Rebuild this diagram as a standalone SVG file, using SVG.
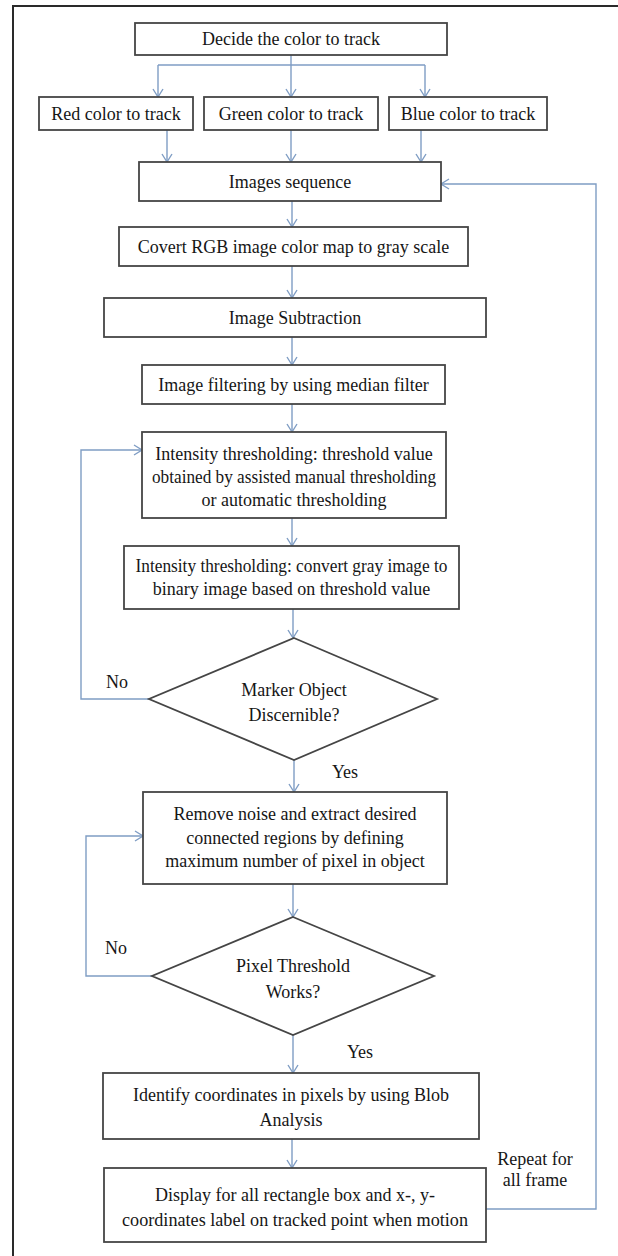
<svg xmlns="http://www.w3.org/2000/svg" width="618" height="1256" viewBox="0 0 618 1256">
<style>
.box{fill:#fff;stroke:#454545;stroke-width:1.8}
.t{font-family:"Liberation Serif","Times New Roman",serif;font-size:18px;fill:#161616;text-anchor:middle;dominant-baseline:central}
.c{fill:none;stroke:#7f9dc4;stroke-width:1.4}
</style>
<defs>
<marker id="ah" markerWidth="12" markerHeight="12" refX="9" refY="6" orient="auto" markerUnits="userSpaceOnUse">
<path d="M1,1 L9,6 L1,11" fill="none" stroke="#7f9dc4" stroke-width="1.4"/>
</marker>
</defs>
<rect width="618" height="1256" fill="#fff"/>
<path d="M13,1256 V6 H618" fill="none" stroke="#2a2a2a" stroke-width="2"/>

<g id="connectors">
<path class="c" d="M291,55 V97" marker-end="url(#ah)"/>
<path class="c" d="M158,65 H425"/>
<path class="c" d="M158,65 V97" marker-end="url(#ah)"/>
<path class="c" d="M425,65 V97" marker-end="url(#ah)"/>
<path class="c" d="M167,130 V162" marker-end="url(#ah)"/>
<path class="c" d="M291,130 V162" marker-end="url(#ah)"/>
<path class="c" d="M421,130 V162" marker-end="url(#ah)"/>
<path class="c" d="M292,201 V227" marker-end="url(#ah)"/>
<path class="c" d="M292,266 V298" marker-end="url(#ah)"/>
<path class="c" d="M292,337 V365" marker-end="url(#ah)"/>
<path class="c" d="M292,404 V432" marker-end="url(#ah)"/>
<path class="c" d="M292,518 V546" marker-end="url(#ah)"/>
<path class="c" d="M293,609 V638" marker-end="url(#ah)"/>
<path class="c" d="M149,699 H81 V450 H142" marker-end="url(#ah)"/>
<path class="c" d="M294,760 V792" marker-end="url(#ah)"/>
<path class="c" d="M293,884 V917" marker-end="url(#ah)"/>
<path class="c" d="M152,976 H86 V836 H143" marker-end="url(#ah)"/>
<path class="c" d="M293,1035 V1073" marker-end="url(#ah)"/>
<path class="c" d="M292,1139 V1168" marker-end="url(#ah)"/>
<path class="c" d="M486,1209 H596 V184 H441" marker-end="url(#ah)"/>
</g>

<g id="decide"><rect class="box" x="135" y="23" width="312" height="32"/><text class="t" x="291" y="39">Decide the color to track</text></g>
<g id="red"><rect class="box" x="39" y="97" width="154" height="33"/><text class="t" x="116" y="113.5">Red color to track</text></g>
<g id="green"><rect class="box" x="204" y="97" width="174" height="33"/><text class="t" x="291" y="113.5">Green color to track</text></g>
<g id="blue"><rect class="box" x="389" y="97" width="158" height="33"/><text class="t" x="468" y="113.5">Blue color to track</text></g>
<g id="images"><rect class="box" x="139" y="162" width="302" height="39"/><text class="t" x="290" y="181.5">Images sequence</text></g>
<g id="covert"><rect class="box" x="119" y="227" width="349" height="39"/><text class="t" x="293.5" y="246.5">Covert RGB image color map to gray scale</text></g>
<g id="subtraction"><rect class="box" x="104" y="298" width="382" height="39"/><text class="t" x="295" y="317.5">Image Subtraction</text></g>
<g id="filter"><rect class="box" x="142" y="365" width="303" height="39"/><text class="t" x="293.5" y="384.5">Image filtering by using median filter</text></g>
<g id="thresh1"><rect class="box" x="142" y="432" width="304" height="86"/>
<text class="t" x="294" y="454">Intensity thresholding: threshold value</text>
<text class="t" x="294" y="477" textLength="284" lengthAdjust="spacingAndGlyphs">obtained by assisted manual thresholding</text>
<text class="t" x="294" y="500">or automatic thresholding</text></g>
<g id="thresh2"><rect class="box" x="124" y="546" width="335" height="63"/>
<text class="t" x="291.5" y="566" textLength="312" lengthAdjust="spacingAndGlyphs">Intensity thresholding: convert gray image to</text>
<text class="t" x="291.5" y="589">binary image based on threshold value</text></g>
<g id="marker"><polygon class="box" points="294,638 437,699 294,760 149,699"/>
<text class="t" x="294" y="690">Marker Object</text>
<text class="t" x="294" y="715">Discernible?</text></g>
<g id="remove"><rect class="box" x="143" y="792" width="304" height="92"/>
<text class="t" x="295" y="814">Remove noise and extract desired</text>
<text class="t" x="295" y="838">connected regions by defining</text>
<text class="t" x="295" y="861">maximum number of pixel in object</text></g>
<g id="pixel"><polygon class="box" points="293,917 434,976 293,1035 152,976"/>
<text class="t" x="293" y="966">Pixel Threshold</text>
<text class="t" x="293" y="992">Works?</text></g>
<g id="identify"><rect class="box" x="103" y="1073" width="376" height="66"/>
<text class="t" x="291" y="1095">Identify coordinates in pixels by using Blob</text>
<text class="t" x="291" y="1120">Analysis</text></g>
<g id="display"><rect class="box" x="104" y="1168" width="382" height="74"/>
<text class="t" x="295" y="1195">Display for all rectangle box and x-, y-</text>
<text class="t" x="295" y="1220" textLength="346" lengthAdjust="spacingAndGlyphs">coordinates label on tracked point when motion</text></g>

<g id="labels">
<text class="t" x="117" y="682">No</text>
<text class="t" x="345" y="772">Yes</text>
<text class="t" x="116" y="948">No</text>
<text class="t" x="360" y="1052">Yes</text>
<text class="t" x="535" y="1159">Repeat for</text>
<text class="t" x="535" y="1180">all frame</text>
</g>
</svg>
